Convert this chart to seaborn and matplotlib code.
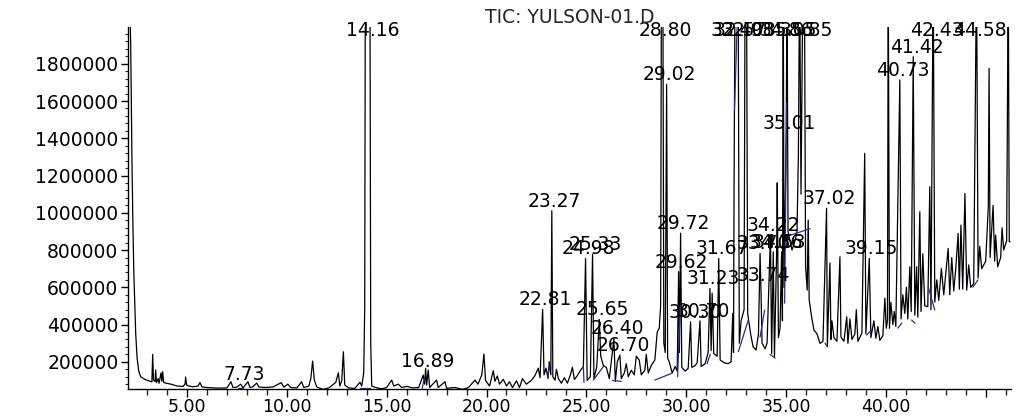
import numpy as np
import matplotlib
matplotlib.use("Agg")
import matplotlib.pyplot as plt
import seaborn as sns
from matplotlib.ticker import MultipleLocator

# retention time (min) and TIC abundance (thousands)
rt = [2.10, 2.18, 2.24, 2.28, 2.33, 2.38, 2.43, 2.50, 2.58, 2.68, 2.90, 3.15, 3.24, 3.28, 3.32, 3.40,
      3.43, 3.47, 3.55, 3.60, 3.70, 3.74, 3.78, 3.83, 3.95, 4.20, 4.50, 4.80, 4.90, 4.93, 4.98, 5.10,
      5.30, 5.55, 5.65, 5.75, 6.00, 6.30, 6.60, 7.00, 7.20, 7.30, 7.49, 7.69, 7.80, 8.05, 8.15, 8.30,
      8.49, 8.60, 8.90, 9.30, 9.72, 9.85, 10.05, 10.20, 10.50, 10.74, 10.85, 11.10, 11.20, 11.29, 11.38,
      11.50, 11.80, 12.10, 12.25, 12.45, 12.58, 12.65, 12.75, 12.83, 12.90, 13.10, 13.40, 13.66, 13.75,
      13.85, 13.90, 13.93, 14.16, 14.20, 14.25, 14.45, 14.75, 15.00, 15.25, 15.35, 15.58, 15.75, 16.00,
      16.30, 16.60, 16.83, 16.90, 16.95, 17.00, 17.08, 17.15, 17.50, 17.58, 17.92, 18.00, 18.42, 18.80,
      19.10, 19.42, 19.57, 19.76, 19.87, 19.95, 20.15, 20.34, 20.42, 20.54, 20.65, 20.84, 21.00, 21.15,
      21.30, 21.50, 21.65, 21.80, 22.00, 22.26, 22.42, 22.59, 22.68, 22.81, 22.88, 22.98, 23.08, 23.14,
      23.22, 23.27, 23.32, 23.43, 23.50, 23.60, 23.75, 23.90, 24.05, 24.20, 24.30, 24.40, 24.55, 24.71,
      24.85, 24.96, 25.04, 25.20, 25.31, 25.38, 25.52, 25.65, 25.72, 25.85, 26.00, 26.15, 26.38, 26.45,
      26.55, 26.68, 26.75, 26.90, 27.00, 27.10, 27.25, 27.40, 27.50, 27.65, 27.75, 27.93, 28.00, 28.10,
      28.25, 28.43, 28.55, 28.65, 28.72, 28.76, 28.83, 28.88, 28.95, 29.02, 29.07, 29.15, 29.30, 29.45,
      29.55, 29.62, 29.66, 29.72, 29.78, 29.95, 30.10, 30.22, 30.28, 30.45, 30.55, 30.69, 30.75, 30.95,
      31.10, 31.19, 31.25, 31.30, 31.38, 31.55, 31.63, 31.70, 31.90, 32.10, 32.25, 32.33, 32.37, 32.40,
      32.45, 32.60, 32.66, 32.75, 32.90, 32.95, 33.02, 33.08, 33.22, 33.35, 33.50, 33.62, 33.70, 33.74,
      33.80, 33.95, 34.05, 34.22, 34.28, 34.36, 34.42, 34.53, 34.56, 34.62, 34.70, 34.78, 34.82, 34.86,
      34.90, 35.01, 35.05, 35.10, 35.30, 35.45, 35.55, 35.62, 35.68, 35.75, 35.85, 35.92, 35.98, 36.06,
      36.11, 36.16, 36.28, 36.40, 36.55, 36.70, 36.85, 37.03, 37.07, 37.20, 37.25, 37.30, 37.40, 37.55,
      37.70, 37.75, 37.90, 38.04, 38.10, 38.20, 38.30, 38.45, 38.52, 38.60, 38.80, 38.94, 39.00, 39.17,
      39.25, 39.40, 39.50, 39.60, 39.70, 39.85, 39.95, 40.02, 40.08, 40.12, 40.18, 40.25, 40.35, 40.42,
      40.50, 40.70, 40.76, 40.85, 40.95, 41.03, 41.10, 41.20, 41.27, 41.37, 41.45, 41.54, 41.60, 41.70,
      41.76, 41.85, 41.95, 42.10, 42.20, 42.26, 42.37, 42.45, 42.55, 42.65, 42.78, 42.90, 43.12, 43.20,
      43.30, 43.40, 43.50, 43.62, 43.68, 43.76, 43.85, 43.96, 44.05, 44.15, 44.25, 44.40, 44.54, 44.62,
      44.70, 44.80, 45.00, 45.13, 45.17, 45.22, 45.37, 45.45, 45.50, 45.60, 45.75, 45.82, 45.90, 46.05,
      46.13, 46.18, 46.22]
tic_k = [2300, 1900, 1300, 1000, 700, 520, 350, 220, 150, 120, 105, 95, 92, 240, 100, 95,
         156, 88, 110, 85, 141, 95, 147, 90, 85, 80, 70, 68, 80, 118, 75, 70,
         66, 70, 88, 65, 62, 60, 59, 60, 93, 62, 64, 80, 60, 93, 62, 66,
         86, 65, 62, 65, 88, 64, 80, 62, 60, 93, 62, 70, 110, 204, 100,
         65, 52, 60, 72, 90, 141, 70, 100, 254, 75, 60, 57, 90, 70,
         140, 500, 2300, 2300, 300, 70, 62, 55, 62, 102, 70, 80, 62, 68,
         60, 62, 129, 80, 165, 75, 156, 62, 102, 62, 93, 58, 62, 52,
         62, 102, 80, 129, 242, 100, 70, 152, 95, 124, 80, 106, 70, 93,
         62, 98, 62, 110, 80, 102, 125, 166, 115, 481, 130, 166, 110, 200,
         130, 1011, 120, 101, 160, 110, 85, 115, 85, 130, 170, 105, 126, 155,
         174, 755, 100, 120, 778, 110, 174, 428, 230, 180, 170, 110, 326, 95,
         200, 236, 110, 140, 190, 120, 155, 130, 230, 209, 130, 155, 240, 140,
         180, 210, 361, 380, 500, 2300, 2300, 300, 250, 1690, 220, 200, 140, 175,
         150, 684, 250, 890, 170, 150, 165, 415, 170, 180, 195, 420, 175, 190,
         250, 594, 260, 569, 245, 230, 755, 210, 195, 190, 200, 460, 250, 1200,
         2300, 2300, 300, 420, 480, 2300, 2300, 460, 354, 281, 263, 350, 782, 610,
         300, 270, 300, 880, 245, 790, 227, 790, 1161, 330, 380, 790, 420, 2300,
         600, 1430, 2300, 900, 800, 850, 900, 1320, 2300, 1100, 2300, 2300, 710, 585,
         961, 532, 442, 370, 350, 299, 310, 1024, 281, 730, 320, 420, 330, 310,
         764, 334, 310, 442, 299, 430, 320, 350, 480, 310, 354, 1319, 350, 755,
         330, 420, 326, 390, 315, 340, 542, 380, 420, 2300, 380, 520, 400, 470,
         390, 1713, 430, 560, 460, 600, 430, 710, 470, 1838, 450, 710, 440, 1006,
         470, 780, 500, 496, 1140, 480, 2300, 520, 640, 530, 700, 560, 809, 560,
         760, 580, 700, 889, 590, 934, 590, 1104, 585, 720, 600, 620, 2300, 650,
         820, 700, 740, 1032, 1775, 760, 1040, 740, 880, 710, 760, 920, 800, 850,
         2300, 845, 845]
assert len(rt) == len(tic_k)

# integration baselines (blue): start time, start abundance, end time, end abundance (thousands)
base_t0 = [7.55, 13.67, 16.78, 23.05, 24.85, 25.35, 26.30, 28.43, 29.57, 31.05, 32.42, 32.61,
           33.70, 34.20, 34.93, 34.95, 36.95, 39.04, 40.60, 41.29, 42.12, 44.36]
base_y0 = [60, 57, 58, 120, 174, 102, 100, 102, 120, 190, 1550, 254,
           333, 240, 515, 870, 300, 344, 381, 424, 603, 601]
base_t1 = [7.80, 14.18, 16.88, 23.20, 24.88, 25.85, 26.75, 29.27, 29.70, 31.20, 32.55, 33.11,
           33.93, 34.45, 35.03, 36.20, 37.05, 39.28, 40.80, 41.45, 42.45, 44.61]
base_y1 = [60, 57, 110, 190, 90, 174, 95, 138, 495, 240, 2000, 424,
           478, 220, 1590, 915, 285, 370, 408, 408, 478, 639]

# peak labels and the abundance (thousands) they sit on; 1930 = clipped at top
peak_labels = ["7.73", "14.16", "16.89", "22.81", "23.27", "24.98", "25.33", "25.65", "26.40",
               "26.70", "28.80", "29.02", "29.62", "29.72", "30.30", "30.70", "31.23", "31.67",
               "32.40", "32.57", "32.98", "33.70", "33.74", "34.22", "34.36", "34.53", "34.86",
               "35.01", "35.05", "35.85", "37.02", "39.15", "40.73", "41.42", "42.43", "44.58"]
label_k = [80, 1930, 150, 481, 1011, 755, 778, 428, 326,
           236, 1930, 1690, 684, 890, 415, 420, 594, 755,
           1930, 1930, 1930, 782, 610, 880, 790, 790, 1930,
           1430, 1930, 1930, 1024, 755, 1713, 1838, 1930, 1930]

y_ticks = [200000, 400000, 600000, 800000, 1000000, 1200000, 1400000, 1600000, 1800000]
x_ticks = [5, 10, 15, 20, 25, 30, 35, 40, 45]
x_tick_labels = ["5.00", "10.00", "15.00", "20.00", "25.00", "30.00", "35.00", "40.00", ""]

sns.set_style("ticks")
plt.rcParams["font.family"] = ["DejaVu Sans"]
fs = 13.5

fig = plt.figure(figsize=(10.25, 4.17), dpi=100)
ax = fig.add_axes([0.125, 0.067, 0.861, 0.868])

tic = np.array(tic_k) * 1000.0
sns.lineplot(x=rt, y=tic, ax=ax, color="black", linewidth=0.9, estimator=None, sort=False)

for t0, y0, t1, y1 in zip(base_t0, base_y0, base_t1, base_y1):
    ax.plot([t0, t1], [y0 * 1000, y1 * 1000], color="#2a2a9c", linewidth=0.9)

for lab, h in zip(peak_labels, label_k):
    ax.annotate(lab, (float(lab), h * 1000), xytext=(2, 0), textcoords="offset points",
                ha="center", va="bottom", fontsize=fs, color="black", annotation_clip=False)

ax.set_xlim(2.05, 46.25)
ax.set_ylim(53700, 1997000)
ax.set_xticks(x_ticks)
ax.set_xticklabels(x_tick_labels)
ax.set_yticks(y_ticks)
ax.set_yticklabels([str(v) for v in y_ticks])
ax.xaxis.set_minor_locator(MultipleLocator(1))
ax.yaxis.set_minor_locator(MultipleLocator(40000))
ax.tick_params(axis="y", which="major", labelsize=fs, length=5, width=1, colors="black", pad=2)
ax.tick_params(axis="x", which="major", labelsize=12.5, length=6, width=1, colors="black", pad=0.5)
ax.tick_params(axis="x", which="minor", length=4, width=1)
ax.tick_params(axis="y", which="minor", length=2, width=0.8)
ax.set_xlabel("")
ax.set_ylabel("")
ax.set_title("TIC: YULSON-01.D", fontsize=fs, pad=1)
sns.despine(ax=ax)
for s in ["left", "bottom"]:
    ax.spines[s].set_linewidth(1)
    ax.spines[s].set_color("black")

fig.savefig("out.png", dpi=100)
